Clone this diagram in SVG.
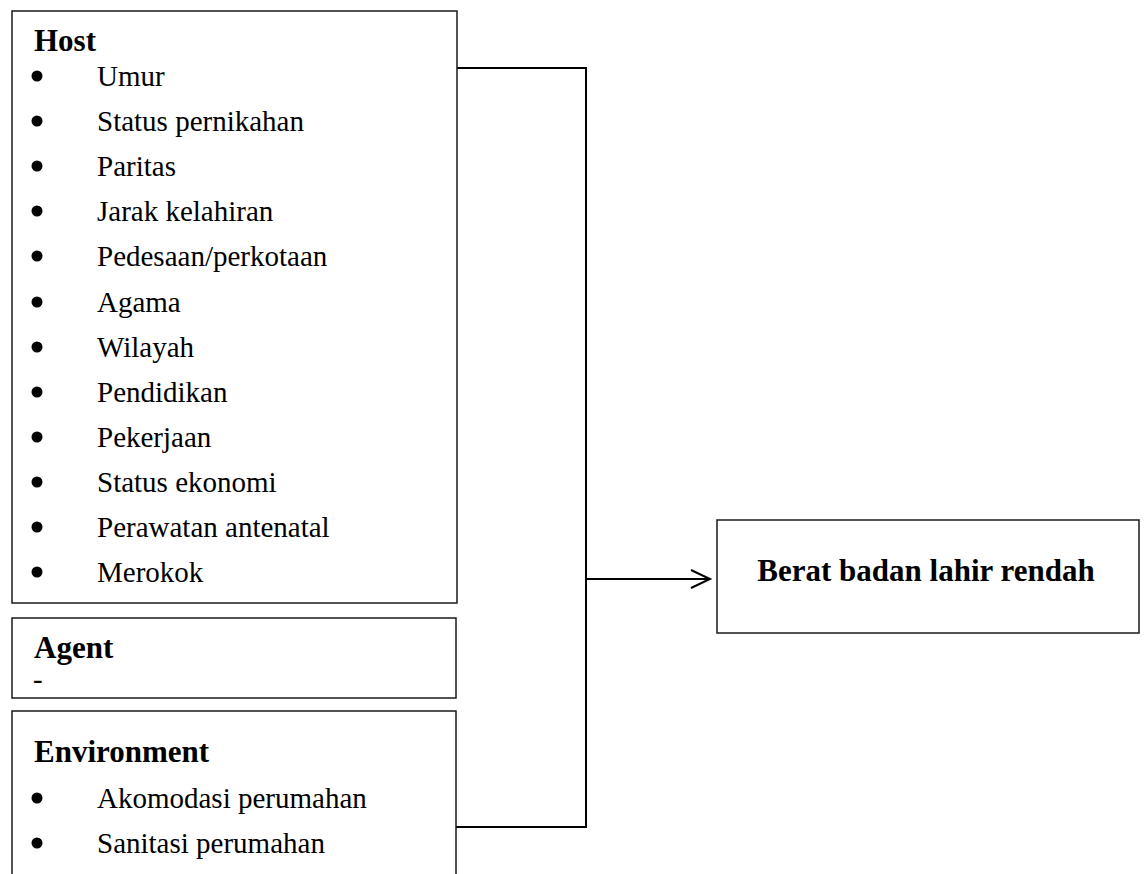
<svg xmlns="http://www.w3.org/2000/svg" width="1144" height="874" viewBox="0 0 1144 874">
<style>
.box{fill:#fff;stroke:#1a1a1a;stroke-width:1.5}
.conn{fill:none;stroke:#000;stroke-width:2}
.t{font-family:"Liberation Serif","Times New Roman",serif;font-size:29px;fill:#000}
.b{font-family:"Liberation Serif","Times New Roman",serif;font-size:31px;font-weight:bold;fill:#000}
.dot{fill:#000}
</style>
<defs>
<marker id="arr" markerWidth="24" markerHeight="24" refX="20" refY="10" orient="auto" markerUnits="userSpaceOnUse">
<path d="M1,1 L20,10 L1,19" fill="none" stroke="#000" stroke-width="2"/>
</marker>
</defs>
<rect width="1144" height="874" fill="#fff"/>
<g id="connectors">
<polyline class="conn" points="457,68 586,68 586,827 456,827"/>
<line class="conn" x1="586" y1="579" x2="710" y2="579" marker-end="url(#arr)"/>
</g>
<g id="host">
<rect class="box" x="12" y="11" width="445" height="592"/>
<text class="b" x="34" y="51">Host</text>
<g class="dot">
<circle cx="37" cy="76" r="5.5"/><circle cx="37" cy="121" r="5.5"/><circle cx="37" cy="166" r="5.5"/>
<circle cx="37" cy="211" r="5.5"/><circle cx="37" cy="256" r="5.5"/><circle cx="37" cy="302" r="5.5"/>
<circle cx="37" cy="347" r="5.5"/><circle cx="37" cy="392" r="5.5"/><circle cx="37" cy="437" r="5.5"/>
<circle cx="37" cy="482" r="5.5"/><circle cx="37" cy="527" r="5.5"/><circle cx="37" cy="572" r="5.5"/>
</g>
<g class="t">
<text x="97" y="86">Umur</text>
<text x="97" y="131">Status pernikahan</text>
<text x="97" y="176">Paritas</text>
<text x="97" y="221">Jarak kelahiran</text>
<text x="97" y="266">Pedesaan/perkotaan</text>
<text x="97" y="312">Agama</text>
<text x="97" y="357">Wilayah</text>
<text x="97" y="402">Pendidikan</text>
<text x="97" y="447">Pekerjaan</text>
<text x="97" y="492">Status ekonomi</text>
<text x="97" y="537">Perawatan antenatal</text>
<text x="97" y="582">Merokok</text>
</g>
</g>
<g id="agent">
<rect class="box" x="12" y="618" width="444" height="80"/>
<text class="b" x="34" y="658">Agent</text>
<text class="t" x="33" y="689">-</text>
</g>
<g id="environment">
<rect class="box" x="12" y="711" width="444" height="200"/>
<text class="b" x="34" y="762">Environment</text>
<g class="dot">
<circle cx="37" cy="798" r="5.5"/><circle cx="37" cy="843" r="5.5"/>
</g>
<g class="t">
<text x="97" y="808">Akomodasi perumahan</text>
<text x="97" y="853">Sanitasi perumahan</text>
</g>
</g>
<g id="result">
<rect class="box" x="717" y="520" width="422" height="113"/>
<text class="b" x="926" y="581" text-anchor="middle">Berat badan lahir rendah</text>
</g>
</svg>
